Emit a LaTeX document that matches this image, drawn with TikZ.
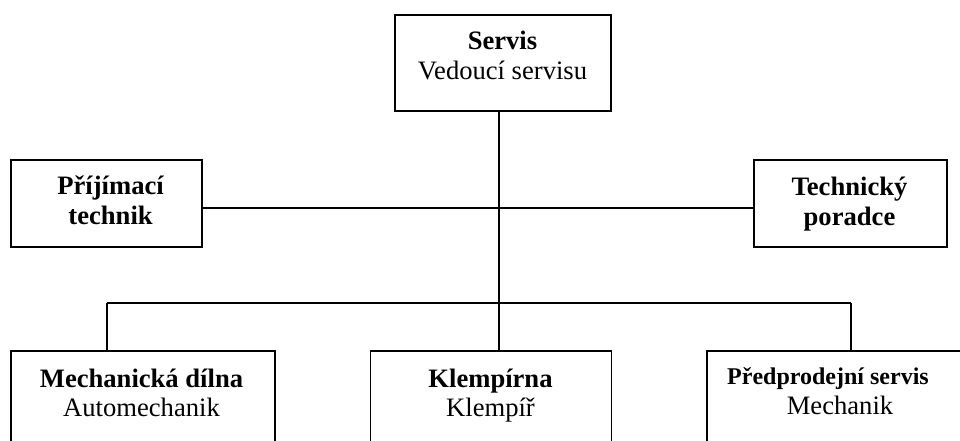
\documentclass[tikz,border=0pt]{standalone}
\usepackage{fontspec}
\setmainfont{Liberation Serif}
\begin{document}
\begin{tikzpicture}[x=1pt,y=-1pt,
  box/.style={draw,line width=1.6pt,rectangle,inner sep=0pt},
  txt/.style={align=center,inner sep=0pt,font=\fontsize{26.6}{29.5}\selectfont},
  conn/.style={line width=1.6pt}]
\clip (0,0) rectangle (960,441);
% boxes
\node[box,minimum width=216pt,minimum height=96pt] (top) at (503,63) {};
\node[box,minimum width=191pt,minimum height=87pt] (left) at (106.3,203.5) {};
\node[box,minimum width=193pt,minimum height=87pt] (right) at (850.5,203.5) {};
\node[box,minimum width=264pt,minimum height=119pt] (b1) at (143,410.5) {};
\node[box,minimum width=241pt,minimum height=119pt] (b2) at (491,410.5) {};
\node[box,minimum width=283pt,minimum height=119pt] (b3) at (848.5,410.5) {};
% texts
\node[txt] (topt) at (502.5,55.4) {\textbf{Servis}\\Vedoucí servisu};
\node[txt,font=\fontsize{26.6}{30}\selectfont\bfseries] (leftt) at (110.6,200.7) {Příjímací\\technik};
\node[txt,font=\fontsize{26.6}{30}\selectfont\bfseries] (rightt) at (849.5,203.6) {Technický\\poradce};
\node[txt] (b1t) at (141.5,392.7) {\textbf{Mechanická dílna}\\Automechanik};
\node[txt] (b2t) at (490.5,395.6) {\textbf{Klempírna}\\Klempíř};
\node[txt] (b3t) at (828,391.1) {{\fontsize{24}{29}\selectfont\bfseries Předprodejní servis}\\\hspace*{24pt}Mechanik};
% connectors
\coordinate (j1) at (499,208);
\coordinate (j2) at (499,303);
\coordinate (bl) at (107,303);
\coordinate (br) at (851,303);
\draw[conn] (j1 |- top.south) -- (j2 |- b2.north);
\draw[conn] (left.east |- j1) -- (right.west |- j1);
\draw[conn] (bl) -- (br);
\draw[conn] (bl) -- (bl |- b1.north);
\draw[conn] (br) -- (br |- b3.north);
\end{tikzpicture}
\end{document}
